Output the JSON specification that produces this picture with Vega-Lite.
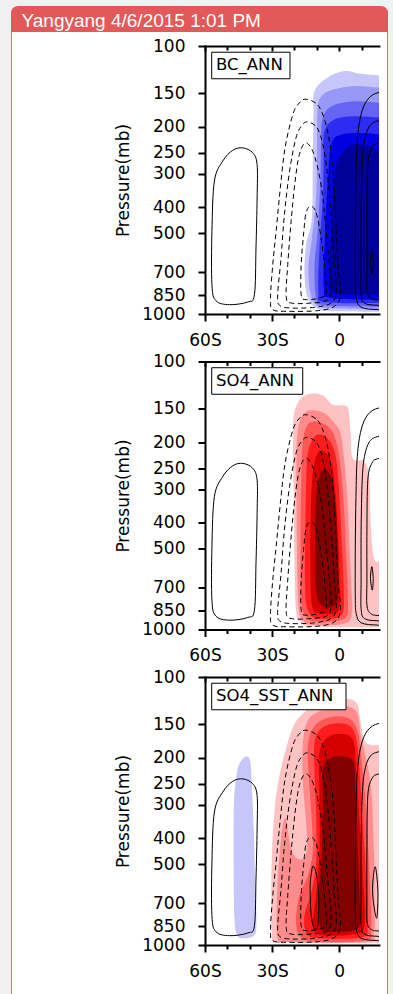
{
"$schema": "https://vega.github.io/schema/vega-lite/v6.json",
"background": "#f1f1f1",
"padding": {"left": 10, "top": 5, "right": 6, "bottom": 0},
"autosize": {"type": "pad"},
"config": {
  "view": {"stroke": null},
  "axis": {"domainColor": "black", "domainWidth": 2, "domainCap": "square", "tickColor": "black", "tickWidth": 2, "labelFont": "DejaVu Sans", "labelFontSize": 17, "labelColor": "black", "titleFont": "DejaVu Sans", "titleFontSize": 17, "titleFontWeight": "normal", "titleColor": "black", "grid": false, "labelOverlap": false, "labelFlush": false}
},
"datasets": {
"fills": [
{"pn":"BC","lev":"b1","x":-11.0,"y":147},{"pn":"BC","lev":"b1","x":-5.1,"y":131},{"pn":"BC","lev":"b1","x":2.4,"y":124},{"pn":"BC","lev":"b1","x":9.8,"y":127},{"pn":"BC","lev":"b1","x":19,"y":129},{"pn":"BC","lev":"b1","x":30,"y":129},{"pn":"BC","lev":"b1","x":30,"y":980},{"pn":"BC","lev":"b1","x":19,"y":980},{"pn":"BC","lev":"b1","x":-2.1,"y":977},{"pn":"BC","lev":"b1","x":-9.6,"y":955},{"pn":"BC","lev":"b1","x":-14.0,"y":871},{"pn":"BC","lev":"b1","x":-15.5,"y":713},{"pn":"BC","lev":"b1","x":-14.8,"y":551},{"pn":"BC","lev":"b1","x":-12.2,"y":438},{"pn":"BC","lev":"b1","x":-11.8,"y":277},{"pn":"BC","lev":"b1","x":-11.5,"y":180},
{"pn":"BC","lev":"b2","x":-9.6,"y":170},{"pn":"BC","lev":"b2","x":-7.3,"y":152},{"pn":"BC","lev":"b2","x":-2.1,"y":145},{"pn":"BC","lev":"b2","x":6.9,"y":141},{"pn":"BC","lev":"b2","x":19,"y":143},{"pn":"BC","lev":"b2","x":30,"y":143},{"pn":"BC","lev":"b2","x":30,"y":960},{"pn":"BC","lev":"b2","x":19,"y":960},{"pn":"BC","lev":"b2","x":-5.1,"y":950},{"pn":"BC","lev":"b2","x":-11.0,"y":910},{"pn":"BC","lev":"b2","x":-13.3,"y":800},{"pn":"BC","lev":"b2","x":-13.7,"y":654},{"pn":"BC","lev":"b2","x":-12.2,"y":520},{"pn":"BC","lev":"b2","x":-10.3,"y":369},{"pn":"BC","lev":"b2","x":-9.9,"y":240},
{"pn":"BC","lev":"b3","x":-7.3,"y":185},{"pn":"BC","lev":"b3","x":-3.6,"y":168},{"pn":"BC","lev":"b3","x":5.4,"y":161},{"pn":"BC","lev":"b3","x":19,"y":163},{"pn":"BC","lev":"b3","x":30,"y":163},{"pn":"BC","lev":"b3","x":30,"y":940},{"pn":"BC","lev":"b3","x":19,"y":940},{"pn":"BC","lev":"b3","x":-6.6,"y":928},{"pn":"BC","lev":"b3","x":-10.3,"y":871},{"pn":"BC","lev":"b3","x":-11.0,"y":654},{"pn":"BC","lev":"b3","x":-9.6,"y":491},{"pn":"BC","lev":"b3","x":-8.4,"y":319},{"pn":"BC","lev":"b3","x":-8.1,"y":220},
{"pn":"BC","lev":"b4","x":-6.6,"y":208},{"pn":"BC","lev":"b4","x":-2.1,"y":188},{"pn":"BC","lev":"b4","x":6.9,"y":183},{"pn":"BC","lev":"b4","x":19,"y":185},{"pn":"BC","lev":"b4","x":30,"y":185},{"pn":"BC","lev":"b4","x":30,"y":910},{"pn":"BC","lev":"b4","x":19,"y":910},{"pn":"BC","lev":"b4","x":-6.6,"y":902},{"pn":"BC","lev":"b4","x":-9.3,"y":823},{"pn":"BC","lev":"b4","x":-8.8,"y":567},{"pn":"BC","lev":"b4","x":-7.3,"y":369},{"pn":"BC","lev":"b4","x":-6.9,"y":261},
{"pn":"BC","lev":"b5","x":-3.6,"y":233},{"pn":"BC","lev":"b5","x":0.9,"y":214},{"pn":"BC","lev":"b5","x":9.8,"y":211},{"pn":"BC","lev":"b5","x":19,"y":214},{"pn":"BC","lev":"b5","x":30,"y":214},{"pn":"BC","lev":"b5","x":30,"y":884},{"pn":"BC","lev":"b5","x":19,"y":884},{"pn":"BC","lev":"b5","x":-3.6,"y":871},{"pn":"BC","lev":"b5","x":-6.9,"y":800},{"pn":"BC","lev":"b5","x":-6.3,"y":491},{"pn":"BC","lev":"b5","x":-5.1,"y":319},
{"pn":"BC","lev":"b6","x":-2.1,"y":302},{"pn":"BC","lev":"b6","x":0.9,"y":254},{"pn":"BC","lev":"b6","x":6.1,"y":233},{"pn":"BC","lev":"b6","x":12.8,"y":236},{"pn":"BC","lev":"b6","x":19,"y":247},{"pn":"BC","lev":"b6","x":30,"y":247},{"pn":"BC","lev":"b6","x":30,"y":847},{"pn":"BC","lev":"b6","x":19,"y":847},{"pn":"BC","lev":"b6","x":-2.1,"y":835},{"pn":"BC","lev":"b6","x":-4.3,"y":734},{"pn":"BC","lev":"b6","x":-3.6,"y":491},
{"pn":"SO4","lev":"r1","x":-20.3,"y":158},{"pn":"SO4","lev":"r1","x":-17.3,"y":138},{"pn":"SO4","lev":"r1","x":-12.5,"y":132},{"pn":"SO4","lev":"r1","x":-7.3,"y":134},{"pn":"SO4","lev":"r1","x":-2.9,"y":145},{"pn":"SO4","lev":"r1","x":2.4,"y":146},{"pn":"SO4","lev":"r1","x":4.2,"y":152},{"pn":"SO4","lev":"r1","x":5.1,"y":185},{"pn":"SO4","lev":"r1","x":6.1,"y":230},{"pn":"SO4","lev":"r1","x":11.3,"y":236},{"pn":"SO4","lev":"r1","x":13.6,"y":277},{"pn":"SO4","lev":"r1","x":14.0,"y":390},{"pn":"SO4","lev":"r1","x":15.5,"y":540},{"pn":"SO4","lev":"r1","x":19,"y":556},{"pn":"SO4","lev":"r1","x":30,"y":560},{"pn":"SO4","lev":"r1","x":30,"y":980},{"pn":"SO4","lev":"r1","x":19,"y":980},{"pn":"SO4","lev":"r1","x":-11.0,"y":977},{"pn":"SO4","lev":"r1","x":-17.3,"y":936},{"pn":"SO4","lev":"r1","x":-19.3,"y":847},{"pn":"SO4","lev":"r1","x":-20.0,"y":567},{"pn":"SO4","lev":"r1","x":-20.3,"y":319},{"pn":"SO4","lev":"r1","x":-20.7,"y":208},
{"pn":"SO4","lev":"r2","x":-18.5,"y":180},{"pn":"SO4","lev":"r2","x":-16.3,"y":158},{"pn":"SO4","lev":"r2","x":-12.5,"y":152},{"pn":"SO4","lev":"r2","x":-6.6,"y":156},{"pn":"SO4","lev":"r2","x":-2.1,"y":170},{"pn":"SO4","lev":"r2","x":0.6,"y":185},{"pn":"SO4","lev":"r2","x":2.1,"y":226},{"pn":"SO4","lev":"r2","x":3.6,"y":319},{"pn":"SO4","lev":"r2","x":4.6,"y":491},{"pn":"SO4","lev":"r2","x":5.4,"y":693},{"pn":"SO4","lev":"r2","x":5.7,"y":871},{"pn":"SO4","lev":"r2","x":2.4,"y":950},{"pn":"SO4","lev":"r2","x":-11.0,"y":963},{"pn":"SO4","lev":"r2","x":-16.3,"y":923},{"pn":"SO4","lev":"r2","x":-18.2,"y":823},{"pn":"SO4","lev":"r2","x":-18.8,"y":567},{"pn":"SO4","lev":"r2","x":-19.1,"y":319},{"pn":"SO4","lev":"r2","x":-19.1,"y":226},
{"pn":"SO4","lev":"r3","x":-16.3,"y":202},{"pn":"SO4","lev":"r3","x":-14.0,"y":172},{"pn":"SO4","lev":"r3","x":-9.6,"y":168},{"pn":"SO4","lev":"r3","x":-4.3,"y":177},{"pn":"SO4","lev":"r3","x":-1.3,"y":199},{"pn":"SO4","lev":"r3","x":0.6,"y":247},{"pn":"SO4","lev":"r3","x":2.1,"y":348},{"pn":"SO4","lev":"r3","x":3.1,"y":520},{"pn":"SO4","lev":"r3","x":3.9,"y":777},{"pn":"SO4","lev":"r3","x":2.4,"y":910},{"pn":"SO4","lev":"r3","x":-9.6,"y":936},{"pn":"SO4","lev":"r3","x":-14.8,"y":897},{"pn":"SO4","lev":"r3","x":-17.0,"y":777},{"pn":"SO4","lev":"r3","x":-17.3,"y":491},{"pn":"SO4","lev":"r3","x":-17.0,"y":293},
{"pn":"SO4","lev":"r4","x":-14.0,"y":220},{"pn":"SO4","lev":"r4","x":-11.0,"y":191},{"pn":"SO4","lev":"r4","x":-7.3,"y":188},{"pn":"SO4","lev":"r4","x":-3.6,"y":202},{"pn":"SO4","lev":"r4","x":-1.3,"y":233},{"pn":"SO4","lev":"r4","x":0.1,"y":319},{"pn":"SO4","lev":"r4","x":1.2,"y":491},{"pn":"SO4","lev":"r4","x":2.1,"y":734},{"pn":"SO4","lev":"r4","x":0.9,"y":884},{"pn":"SO4","lev":"r4","x":-8.1,"y":910},{"pn":"SO4","lev":"r4","x":-13.3,"y":871},{"pn":"SO4","lev":"r4","x":-15.2,"y":734},{"pn":"SO4","lev":"r4","x":-15.2,"y":464},{"pn":"SO4","lev":"r4","x":-14.8,"y":293},
{"pn":"SO4","lev":"r5","x":-11.8,"y":261},{"pn":"SO4","lev":"r5","x":-9.6,"y":220},{"pn":"SO4","lev":"r5","x":-6.6,"y":217},{"pn":"SO4","lev":"r5","x":-3.6,"y":236},{"pn":"SO4","lev":"r5","x":-1.8,"y":302},{"pn":"SO4","lev":"r5","x":-0.6,"y":438},{"pn":"SO4","lev":"r5","x":0.1,"y":654},{"pn":"SO4","lev":"r5","x":-0.3,"y":847},{"pn":"SO4","lev":"r5","x":-8.1,"y":871},{"pn":"SO4","lev":"r5","x":-11.8,"y":835},{"pn":"SO4","lev":"r5","x":-12.8,"y":654},{"pn":"SO4","lev":"r5","x":-12.8,"y":390},
{"pn":"SO4","lev":"r6","x":-10.3,"y":319},{"pn":"SO4","lev":"r6","x":-8.1,"y":258},{"pn":"SO4","lev":"r6","x":-4.3,"y":261},{"pn":"SO4","lev":"r6","x":-2.1,"y":310},{"pn":"SO4","lev":"r6","x":-0.9,"y":438},{"pn":"SO4","lev":"r6","x":-0.3,"y":654},{"pn":"SO4","lev":"r6","x":-1.3,"y":800},{"pn":"SO4","lev":"r6","x":-7.3,"y":818},{"pn":"SO4","lev":"r6","x":-10.3,"y":713},{"pn":"SO4","lev":"r6","x":-10.7,"y":464},
{"pn":"SST","lev":"b1","x":-46.9,"y":277},{"pn":"SST","lev":"b1","x":-45.4,"y":220},{"pn":"SST","lev":"b1","x":-43.1,"y":202},{"pn":"SST","lev":"b1","x":-41.2,"y":198},{"pn":"SST","lev":"b1","x":-39.7,"y":208},{"pn":"SST","lev":"b1","x":-39.0,"y":261},{"pn":"SST","lev":"b1","x":-38.2,"y":369},{"pn":"SST","lev":"b1","x":-37.6,"y":567},{"pn":"SST","lev":"b1","x":-37.0,"y":823},{"pn":"SST","lev":"b1","x":-37.9,"y":918},{"pn":"SST","lev":"b1","x":-42.4,"y":944},{"pn":"SST","lev":"b1","x":-45.7,"y":918},{"pn":"SST","lev":"b1","x":-46.9,"y":777},{"pn":"SST","lev":"b1","x":-47.2,"y":491},{"pn":"SST","lev":"b1","x":-47.2,"y":348},
{"pn":"SST","lev":"r1","x":-30.0,"y":950},{"pn":"SST","lev":"r1","x":-30.4,"y":654},{"pn":"SST","lev":"r1","x":-30.0,"y":438},{"pn":"SST","lev":"r1","x":-28.7,"y":302},{"pn":"SST","lev":"r1","x":-26.7,"y":233},{"pn":"SST","lev":"r1","x":-24.2,"y":191},{"pn":"SST","lev":"r1","x":-20.4,"y":152},{"pn":"SST","lev":"r1","x":-15.5,"y":135},{"pn":"SST","lev":"r1","x":-9.6,"y":127},{"pn":"SST","lev":"r1","x":-2.1,"y":122},{"pn":"SST","lev":"r1","x":4.6,"y":121},{"pn":"SST","lev":"r1","x":8.1,"y":126},{"pn":"SST","lev":"r1","x":9.1,"y":139},{"pn":"SST","lev":"r1","x":10.6,"y":165},{"pn":"SST","lev":"r1","x":12.8,"y":178},{"pn":"SST","lev":"r1","x":19,"y":180},{"pn":"SST","lev":"r1","x":30,"y":180},{"pn":"SST","lev":"r1","x":30,"y":982},{"pn":"SST","lev":"r1","x":19,"y":982},{"pn":"SST","lev":"r1","x":-2.1,"y":982},{"pn":"SST","lev":"r1","x":-17.0,"y":980},{"pn":"SST","lev":"r1","x":-27.5,"y":972},
{"pn":"SST","lev":"r2","x":-27.5,"y":950},{"pn":"SST","lev":"r2","x":-27.8,"y":654},{"pn":"SST","lev":"r2","x":-26.7,"y":464},{"pn":"SST","lev":"r2","x":-25.2,"y":358},{"pn":"SST","lev":"r2","x":-23.7,"y":343},{"pn":"SST","lev":"r2","x":-21.5,"y":438},{"pn":"SST","lev":"r2","x":-18.5,"y":477},{"pn":"SST","lev":"r2","x":-15.5,"y":470},{"pn":"SST","lev":"r2","x":-14.3,"y":413},{"pn":"SST","lev":"r2","x":-15.2,"y":319},{"pn":"SST","lev":"r2","x":-16.3,"y":240},{"pn":"SST","lev":"r2","x":-16.3,"y":180},{"pn":"SST","lev":"r2","x":-14.3,"y":147},{"pn":"SST","lev":"r2","x":-9.6,"y":135},{"pn":"SST","lev":"r2","x":-2.1,"y":129},{"pn":"SST","lev":"r2","x":5.4,"y":130},{"pn":"SST","lev":"r2","x":8.4,"y":139},{"pn":"SST","lev":"r2","x":9.6,"y":165},{"pn":"SST","lev":"r2","x":11.3,"y":190},{"pn":"SST","lev":"r2","x":14.3,"y":260},{"pn":"SST","lev":"r2","x":15.5,"y":450},{"pn":"SST","lev":"r2","x":15.8,"y":700},{"pn":"SST","lev":"r2","x":15.5,"y":900},{"pn":"SST","lev":"r2","x":12.0,"y":975},{"pn":"SST","lev":"r2","x":-23.0,"y":975},
{"pn":"SST","lev":"r3","x":-14.0,"y":180},{"pn":"SST","lev":"r3","x":-11.0,"y":152},{"pn":"SST","lev":"r3","x":-3.6,"y":141},{"pn":"SST","lev":"r3","x":4.6,"y":143},{"pn":"SST","lev":"r3","x":8.4,"y":161},{"pn":"SST","lev":"r3","x":10.1,"y":208},{"pn":"SST","lev":"r3","x":12.1,"y":319},{"pn":"SST","lev":"r3","x":13.6,"y":567},{"pn":"SST","lev":"r3","x":14.3,"y":871},{"pn":"SST","lev":"r3","x":11.3,"y":963},{"pn":"SST","lev":"r3","x":-9.6,"y":972},{"pn":"SST","lev":"r3","x":-17.0,"y":936},{"pn":"SST","lev":"r3","x":-19.3,"y":823},{"pn":"SST","lev":"r3","x":-17.8,"y":654},{"pn":"SST","lev":"r3","x":-14.0,"y":551},{"pn":"SST","lev":"r3","x":-11.8,"y":438},{"pn":"SST","lev":"r3","x":-12.8,"y":293},{"pn":"SST","lev":"r3","x":-13.7,"y":226},
{"pn":"SST","lev":"r4","x":-11.0,"y":175},{"pn":"SST","lev":"r4","x":-8.1,"y":156},{"pn":"SST","lev":"r4","x":-2.1,"y":149},{"pn":"SST","lev":"r4","x":4.6,"y":152},{"pn":"SST","lev":"r4","x":7.6,"y":170},{"pn":"SST","lev":"r4","x":9.1,"y":226},{"pn":"SST","lev":"r4","x":10.6,"y":348},{"pn":"SST","lev":"r4","x":12.1,"y":567},{"pn":"SST","lev":"r4","x":12.8,"y":847},{"pn":"SST","lev":"r4","x":9.8,"y":936},{"pn":"SST","lev":"r4","x":-9.6,"y":944},{"pn":"SST","lev":"r4","x":-14.8,"y":897},{"pn":"SST","lev":"r4","x":-15.5,"y":777},{"pn":"SST","lev":"r4","x":-12.5,"y":636},{"pn":"SST","lev":"r4","x":-10.3,"y":491},{"pn":"SST","lev":"r4","x":-10.3,"y":319},{"pn":"SST","lev":"r4","x":-11.0,"y":226},
{"pn":"SST","lev":"r5","x":-8.8,"y":191},{"pn":"SST","lev":"r5","x":-5.1,"y":168},{"pn":"SST","lev":"r5","x":0.9,"y":163},{"pn":"SST","lev":"r5","x":6.1,"y":172},{"pn":"SST","lev":"r5","x":7.6,"y":220},{"pn":"SST","lev":"r5","x":9.1,"y":348},{"pn":"SST","lev":"r5","x":10.6,"y":567},{"pn":"SST","lev":"r5","x":11.3,"y":847},{"pn":"SST","lev":"r5","x":6.9,"y":910},{"pn":"SST","lev":"r5","x":-8.1,"y":918},{"pn":"SST","lev":"r5","x":-11.8,"y":847},{"pn":"SST","lev":"r5","x":-10.3,"y":654},{"pn":"SST","lev":"r5","x":-8.8,"y":438},{"pn":"SST","lev":"r5","x":-8.8,"y":277},
{"pn":"SST","lev":"r6","x":-7.3,"y":220},{"pn":"SST","lev":"r6","x":-3.6,"y":200},{"pn":"SST","lev":"r6","x":2.4,"y":198},{"pn":"SST","lev":"r6","x":6.4,"y":208},{"pn":"SST","lev":"r6","x":7.3,"y":261},{"pn":"SST","lev":"r6","x":8.1,"y":426},{"pn":"SST","lev":"r6","x":9.1,"y":654},{"pn":"SST","lev":"r6","x":8.7,"y":859},{"pn":"SST","lev":"r6","x":-2.1,"y":892},{"pn":"SST","lev":"r6","x":-8.1,"y":871},{"pn":"SST","lev":"r6","x":-9.3,"y":693},{"pn":"SST","lev":"r6","x":-7.8,"y":464},{"pn":"SST","lev":"r6","x":-7.3,"y":293}
],
"lines": [
{"pn":"all","sign":"pos","id":"L","x":-43.1,"y":240},{"pn":"all","sign":"pos","id":"L","x":-38.7,"y":250},{"pn":"all","sign":"pos","id":"L","x":-36.7,"y":277},{"pn":"all","sign":"pos","id":"L","x":-36.7,"y":369},{"pn":"all","sign":"pos","id":"L","x":-37.2,"y":567},{"pn":"all","sign":"pos","id":"L","x":-37.9,"y":847},{"pn":"all","sign":"pos","id":"L","x":-40.9,"y":902},{"pn":"all","sign":"pos","id":"L","x":-49.1,"y":923},{"pn":"all","sign":"pos","id":"L","x":-55.1,"y":892},{"pn":"all","sign":"pos","id":"L","x":-56.9,"y":777},{"pn":"all","sign":"pos","id":"L","x":-56.9,"y":491},{"pn":"all","sign":"pos","id":"L","x":-55.8,"y":319},{"pn":"all","sign":"pos","id":"L","x":-52.1,"y":269},{"pn":"all","sign":"pos","id":"L","x":-47.6,"y":245},
{"pn":"all","sign":"neg","id":"D1","x":-14.8,"y":158},{"pn":"all","sign":"neg","id":"D1","x":-9.6,"y":166},{"pn":"all","sign":"neg","id":"D1","x":-6.3,"y":191},{"pn":"all","sign":"neg","id":"D1","x":-3.9,"y":240},{"pn":"all","sign":"neg","id":"D1","x":-2.4,"y":319},{"pn":"all","sign":"neg","id":"D1","x":-1.3,"y":491},{"pn":"all","sign":"neg","id":"D1","x":-0.3,"y":693},{"pn":"all","sign":"neg","id":"D1","x":0.6,"y":847},{"pn":"all","sign":"neg","id":"D1","x":-2.1,"y":936},{"pn":"all","sign":"neg","id":"D1","x":-9.6,"y":972},{"pn":"all","sign":"neg","id":"D1","x":-23.0,"y":977},{"pn":"all","sign":"neg","id":"D1","x":-29.7,"y":963},{"pn":"all","sign":"neg","id":"D1","x":-30.7,"y":871},{"pn":"all","sign":"neg","id":"D1","x":-29.7,"y":654},{"pn":"all","sign":"neg","id":"D1","x":-28.2,"y":491},{"pn":"all","sign":"neg","id":"D1","x":-26.3,"y":338},{"pn":"all","sign":"neg","id":"D1","x":-24.2,"y":240},{"pn":"all","sign":"neg","id":"D1","x":-20.7,"y":180},{"pn":"all","sign":"neg","id":"D1","x":-17.8,"y":163},
{"pn":"all","sign":"neg","id":"D2","x":-14.0,"y":192},{"pn":"all","sign":"neg","id":"D2","x":-9.9,"y":202},{"pn":"all","sign":"neg","id":"D2","x":-7.3,"y":233},{"pn":"all","sign":"neg","id":"D2","x":-5.4,"y":293},{"pn":"all","sign":"neg","id":"D2","x":-3.6,"y":426},{"pn":"all","sign":"neg","id":"D2","x":-2.1,"y":654},{"pn":"all","sign":"neg","id":"D2","x":-1.3,"y":823},{"pn":"all","sign":"neg","id":"D2","x":-3.6,"y":910},{"pn":"all","sign":"neg","id":"D2","x":-11.0,"y":944},{"pn":"all","sign":"neg","id":"D2","x":-21.5,"y":950},{"pn":"all","sign":"neg","id":"D2","x":-26.7,"y":928},{"pn":"all","sign":"neg","id":"D2","x":-27.5,"y":847},{"pn":"all","sign":"neg","id":"D2","x":-26.0,"y":618},{"pn":"all","sign":"neg","id":"D2","x":-24.5,"y":426},{"pn":"all","sign":"neg","id":"D2","x":-22.2,"y":293},{"pn":"all","sign":"neg","id":"D2","x":-19.3,"y":220},{"pn":"all","sign":"neg","id":"D2","x":-16.7,"y":198},
{"pn":"all","sign":"neg","id":"D3","x":-15.2,"y":230},{"pn":"all","sign":"neg","id":"D3","x":-12.2,"y":243},{"pn":"all","sign":"neg","id":"D3","x":-9.6,"y":285},{"pn":"all","sign":"neg","id":"D3","x":-7.3,"y":369},{"pn":"all","sign":"neg","id":"D3","x":-5.1,"y":567},{"pn":"all","sign":"neg","id":"D3","x":-3.6,"y":777},{"pn":"all","sign":"neg","id":"D3","x":-5.1,"y":884},{"pn":"all","sign":"neg","id":"D3","x":-12.5,"y":910},{"pn":"all","sign":"neg","id":"D3","x":-21.5,"y":910},{"pn":"all","sign":"neg","id":"D3","x":-23.7,"y":859},{"pn":"all","sign":"neg","id":"D3","x":-23.0,"y":654},{"pn":"all","sign":"neg","id":"D3","x":-21.5,"y":451},{"pn":"all","sign":"neg","id":"D3","x":-19.7,"y":319},{"pn":"all","sign":"neg","id":"D3","x":-17.8,"y":254},
{"pn":"all","sign":"neg","id":"D4","x":-12.8,"y":396},{"pn":"all","sign":"neg","id":"D4","x":-10.3,"y":419},{"pn":"all","sign":"neg","id":"D4","x":-8.1,"y":520},{"pn":"all","sign":"neg","id":"D4","x":-6.3,"y":693},{"pn":"all","sign":"neg","id":"D4","x":-5.8,"y":835},{"pn":"all","sign":"neg","id":"D4","x":-8.8,"y":871},{"pn":"all","sign":"neg","id":"D4","x":-14.8,"y":884},{"pn":"all","sign":"neg","id":"D4","x":-17.0,"y":847},{"pn":"all","sign":"neg","id":"D4","x":-17.0,"y":654},{"pn":"all","sign":"neg","id":"D4","x":-15.8,"y":491},{"pn":"all","sign":"neg","id":"D4","x":-14.8,"y":419},
{"pn":"all","sign":"pos","id":"S1","x":27.8,"y":147},{"pn":"all","sign":"pos","id":"S1","x":17.8,"y":149},{"pn":"all","sign":"pos","id":"S1","x":12.8,"y":158},{"pn":"all","sign":"pos","id":"S1","x":9.8,"y":180},{"pn":"all","sign":"pos","id":"S1","x":8.1,"y":226},{"pn":"all","sign":"pos","id":"S1","x":7.5,"y":319},{"pn":"all","sign":"pos","id":"S1","x":7.2,"y":491},{"pn":"all","sign":"pos","id":"S1","x":7.2,"y":755},{"pn":"all","sign":"pos","id":"S1","x":7.6,"y":871},{"pn":"all","sign":"pos","id":"S1","x":9.8,"y":944},{"pn":"all","sign":"pos","id":"S1","x":17.3,"y":963},{"pn":"all","sign":"pos","id":"S1","x":27.8,"y":963},
{"pn":"all","sign":"pos","id":"S2","x":27.8,"y":186},{"pn":"all","sign":"pos","id":"S2","x":17.8,"y":190},{"pn":"all","sign":"pos","id":"S2","x":13.6,"y":199},{"pn":"all","sign":"pos","id":"S2","x":11.3,"y":226},{"pn":"all","sign":"pos","id":"S2","x":10.3,"y":277},{"pn":"all","sign":"pos","id":"S2","x":9.8,"y":426},{"pn":"all","sign":"pos","id":"S2","x":9.8,"y":654},{"pn":"all","sign":"pos","id":"S2","x":9.8,"y":835},{"pn":"all","sign":"pos","id":"S2","x":11.3,"y":910},{"pn":"all","sign":"pos","id":"S2","x":17.3,"y":928},{"pn":"all","sign":"pos","id":"S2","x":27.8,"y":928},
{"pn":"all","sign":"pos","id":"S3","x":27.8,"y":226},{"pn":"all","sign":"pos","id":"S3","x":17.8,"y":230},{"pn":"all","sign":"pos","id":"S3","x":14.6,"y":240},{"pn":"all","sign":"pos","id":"S3","x":12.8,"y":277},{"pn":"all","sign":"pos","id":"S3","x":12.4,"y":426},{"pn":"all","sign":"pos","id":"S3","x":12.4,"y":654},{"pn":"all","sign":"pos","id":"S3","x":12.4,"y":811},{"pn":"all","sign":"pos","id":"S3","x":14.0,"y":871},{"pn":"all","sign":"pos","id":"S3","x":17.8,"y":887},{"pn":"all","sign":"pos","id":"S3","x":27.8,"y":887},
{"pn":"p12","sign":"pos","id":"E1","x":14.6,"y":583},{"pn":"p12","sign":"pos","id":"E1","x":15.2,"y":645},{"pn":"p12","sign":"pos","id":"E1","x":14.8,"y":713},{"pn":"p12","sign":"pos","id":"E1","x":14.0,"y":645},
{"pn":"p3","sign":"pos","id":"E3","x":16.1,"y":510},{"pn":"p3","sign":"pos","id":"E3","x":17.3,"y":632},{"pn":"p3","sign":"pos","id":"E3","x":16.7,"y":795},{"pn":"p3","sign":"pos","id":"E3","x":14.9,"y":632},
{"pn":"p3","sign":"pos","id":"C3","x":-11.6,"y":507},{"pn":"p3","sign":"pos","id":"C3","x":-9.9,"y":560},{"pn":"p3","sign":"pos","id":"C3","x":-9.1,"y":689},{"pn":"p3","sign":"pos","id":"C3","x":-9.6,"y":842},{"pn":"p3","sign":"pos","id":"C3","x":-11.0,"y":874},{"pn":"p3","sign":"pos","id":"C3","x":-12.5,"y":775},{"pn":"p3","sign":"pos","id":"C3","x":-13.0,"y":614},{"pn":"p3","sign":"pos","id":"C3","x":-12.5,"y":544}
]
},
"spacing": 47.5,
"bounds": "flush",
"vconcat": [
{
 "width": 174, "height": 268,
 "resolve": {"axis": {"x": "independent", "y": "independent"}},
 "layer": [
  {"data": {"values": [{}]}, "mark": {"type": "rect", "fill": "white"},
   "encoding": {"x": {"datum": -146.74, "type": "quantitative", "scale": {"domain": [-60, 17.8], "nice": false, "zero": false}, "axis": null}, "x2": {"datum": 21.82},
                "y": {"datum": 88.66, "type": "quantitative", "scale": {"type": "log", "domain": [100, 1000], "reverse": true, "nice": false}, "axis": null}, "y2": {"datum": 347560}}},
  {"data": {"values": [{}]}, "mark": {"type": "rule", "stroke": "#ec6666", "strokeWidth": 1},
   "encoding": {"x": {"datum": -146.52, "type": "quantitative", "scale": {"domain": [-60, 17.8], "nice": false, "zero": false}, "axis": null},
                "y": {"datum": 88.66, "type": "quantitative", "scale": {"type": "log", "domain": [100, 1000], "reverse": true, "nice": false}, "axis": null}, "y2": {"datum": 347560}}},
  {"data": {"values": [{}]}, "mark": {"type": "rule", "stroke": "#ec6666", "strokeWidth": 1},
   "encoding": {"x": {"datum": 21.6, "type": "quantitative", "scale": {"domain": [-60, 17.8], "nice": false, "zero": false}, "axis": null},
                "y": {"datum": 88.66, "type": "quantitative", "scale": {"type": "log", "domain": [100, 1000], "reverse": true, "nice": false}, "axis": null}, "y2": {"datum": 347560}}},
  {"data": {"values": [{}]}, "mark": {"type": "rect", "fill": "#e35858", "cornerRadiusTopLeft": 7, "cornerRadiusTopRight": 7},
   "encoding": {"x": {"datum": -146.74, "type": "quantitative", "scale": {"domain": [-60, 17.8], "nice": false, "zero": false}, "axis": null}, "x2": {"datum": 21.82},
                "y": {"datum": 70.9, "type": "quantitative", "scale": {"type": "log", "domain": [100, 1000], "reverse": true, "nice": false}, "axis": null}, "y2": {"datum": 88.66}}},
  {"data": {"values": [{}]}, "mark": {"type": "text", "text": "Yangyang 4/6/2015 1:01 PM", "align": "left", "baseline": "alphabetic", "font": "Liberation Sans", "fontSize": 19, "fill": "white"},
   "encoding": {"x": {"datum": -142.05, "type": "quantitative", "scale": {"domain": [-60, 17.8], "nice": false, "zero": false}, "axis": null},
                "y": {"datum": 84.73, "type": "quantitative", "scale": {"type": "log", "domain": [100, 1000], "reverse": true, "nice": false}, "axis": null}}},
  {"data": {"name": "fills"}, "transform": [{"filter": "datum.pn == 'BC'"}],
   "mark": {"type": "line", "filled": true, "interpolate": "cardinal-closed", "clip": true},
   "encoding": {
    "x": {"field": "x", "type": "quantitative", "scale": {"domain": [-60, 17.8], "nice": false, "zero": false},
          "axis": {"zindex": 2, "orient": "bottom", "values": [-60,-50,-40,-30,-20,-10,0,10], "labelExpr": "datum.value == -60 ? '60S' : datum.value == -30 ? '30S' : datum.value == 0 ? '0' : ''", "tickSize": {"condition": {"test": "datum.value % 30 == 0", "value": 7}, "value": 4}, "labelPadding": 11, "title": null}},
    "y": {"field": "y", "type": "quantitative", "scale": {"type": "log", "domain": [100, 1000], "reverse": true, "nice": false},
          "axis": {"zindex": 2, "orient": "left", "values": [100,150,200,250,300,400,500,700,850,1000], "format": "d", "tickSize": 7, "labelPadding": 13, "title": "Pressure(mb)", "titlePadding": 9}},
    "color": {"field": "lev", "type": "nominal", "scale": {"domain": ["b1","b2","b3","b4","b5","b6","r1","r2","r3","r4","r5","r6"], "range": ["#c6c6fb","#9898f6","#6464f5","#2c2cf2","#0000e0","#00009a","#ffc2c2","#ff8c8c","#ff5656","#ff1c1c","#d20000","#820000"]}, "legend": null},
    "order": {"value": null}}},
  {"data": {"name": "lines"}, "transform": [{"filter": "datum.sign == 'neg'"}],
   "mark": {"type": "line", "interpolate": "cardinal-closed", "clip": true, "color": "black", "strokeWidth": 1, "strokeDash": [5, 3.5]},
   "encoding": {
    "x": {"field": "x", "type": "quantitative", "scale": {"domain": [-60, 17.8], "nice": false, "zero": false},
          "axis": {"zindex": 2, "orient": "top", "values": [-60,-50,-40,-30,-20,-10,0,10], "labels": false, "tickSize": {"condition": {"test": "datum.value % 30 == 0", "value": -5}, "value": -4}, "title": null}},
    "y": {"field": "y", "type": "quantitative", "scale": {"type": "log", "domain": [100, 1000], "reverse": true, "nice": false}, "axis": null},
    "detail": {"field": "id"}, "order": {"value": null}}},
  {"data": {"name": "lines"}, "transform": [{"filter": "datum.sign == 'pos' && datum.pn != 'p3'"}],
   "mark": {"type": "line", "interpolate": "cardinal-closed", "clip": true, "color": "black", "strokeWidth": 1},
   "encoding": {
    "x": {"field": "x", "type": "quantitative", "scale": {"domain": [-60, 17.8], "nice": false, "zero": false}, "axis": null},
    "y": {"field": "y", "type": "quantitative", "scale": {"type": "log", "domain": [100, 1000], "reverse": true, "nice": false}, "axis": null},
    "detail": {"field": "id"}, "order": {"value": null}}},
  {"data": {"values": [{}]}, "mark": {"type": "rect", "fill": "white", "stroke": "black", "strokeWidth": 1},
   "encoding": {"x": {"datum": -57.0, "type": "quantitative", "scale": {"domain": [-60, 17.8], "nice": false, "zero": false}, "axis": null}, "x2": {"datum": -22.0},
                "y": {"datum": 105.5, "type": "quantitative", "scale": {"type": "log", "domain": [100, 1000], "reverse": true, "nice": false}, "axis": null}, "y2": {"datum": 132.5}}},
  {"data": {"values": [{}]}, "mark": {"type": "text", "text": "BC_ANN", "align": "left", "baseline": "alphabetic", "font": "DejaVu Sans", "fontSize": 16.5, "fill": "black"},
   "encoding": {"x": {"datum": -55.1, "type": "quantitative", "scale": {"domain": [-60, 17.8], "nice": false, "zero": false}, "axis": null},
                "y": {"datum": 123.2, "type": "quantitative", "scale": {"type": "log", "domain": [100, 1000], "reverse": true, "nice": false}, "axis": null}}}
 ]
},
{
 "width": 174, "height": 268,
 "resolve": {"axis": {"x": "independent", "y": "independent"}},
 "layer": [
  {"data": {"name": "fills"}, "transform": [{"filter": "datum.pn == 'SO4'"}],
   "mark": {"type": "line", "filled": true, "interpolate": "cardinal-closed", "clip": true},
   "encoding": {
    "x": {"field": "x", "type": "quantitative", "scale": {"domain": [-60, 17.8], "nice": false, "zero": false},
          "axis": {"zindex": 2, "orient": "bottom", "values": [-60,-50,-40,-30,-20,-10,0,10], "labelExpr": "datum.value == -60 ? '60S' : datum.value == -30 ? '30S' : datum.value == 0 ? '0' : ''", "tickSize": {"condition": {"test": "datum.value % 30 == 0", "value": 7}, "value": 4}, "labelPadding": 11, "title": null}},
    "y": {"field": "y", "type": "quantitative", "scale": {"type": "log", "domain": [100, 1000], "reverse": true, "nice": false},
          "axis": {"zindex": 2, "orient": "left", "values": [100,150,200,250,300,400,500,700,850,1000], "format": "d", "tickSize": 7, "labelPadding": 13, "title": "Pressure(mb)", "titlePadding": 9}},
    "color": {"field": "lev", "type": "nominal", "scale": {"domain": ["b1","b2","b3","b4","b5","b6","r1","r2","r3","r4","r5","r6"], "range": ["#c6c6fb","#9898f6","#6464f5","#2c2cf2","#0000e0","#00009a","#ffc2c2","#ff8c8c","#ff5656","#ff1c1c","#d20000","#820000"]}, "legend": null},
    "order": {"value": null}}},
  {"data": {"name": "lines"}, "transform": [{"filter": "datum.sign == 'neg'"}],
   "mark": {"type": "line", "interpolate": "cardinal-closed", "clip": true, "color": "black", "strokeWidth": 1, "strokeDash": [5, 3.5]},
   "encoding": {
    "x": {"field": "x", "type": "quantitative", "scale": {"domain": [-60, 17.8], "nice": false, "zero": false},
          "axis": {"zindex": 2, "orient": "top", "values": [-60,-50,-40,-30,-20,-10,0,10], "labels": false, "tickSize": {"condition": {"test": "datum.value % 30 == 0", "value": -5}, "value": -4}, "title": null}},
    "y": {"field": "y", "type": "quantitative", "scale": {"type": "log", "domain": [100, 1000], "reverse": true, "nice": false}, "axis": null},
    "detail": {"field": "id"}, "order": {"value": null}}},
  {"data": {"name": "lines"}, "transform": [{"filter": "datum.sign == 'pos' && datum.pn != 'p3'"}],
   "mark": {"type": "line", "interpolate": "cardinal-closed", "clip": true, "color": "black", "strokeWidth": 1},
   "encoding": {
    "x": {"field": "x", "type": "quantitative", "scale": {"domain": [-60, 17.8], "nice": false, "zero": false}, "axis": null},
    "y": {"field": "y", "type": "quantitative", "scale": {"type": "log", "domain": [100, 1000], "reverse": true, "nice": false}, "axis": null},
    "detail": {"field": "id"}, "order": {"value": null}}},
  {"data": {"values": [{}]}, "mark": {"type": "rect", "fill": "white", "stroke": "black", "strokeWidth": 1},
   "encoding": {"x": {"datum": -57.0, "type": "quantitative", "scale": {"domain": [-60, 17.8], "nice": false, "zero": false}, "axis": null}, "x2": {"datum": -16.3},
                "y": {"datum": 105.5, "type": "quantitative", "scale": {"type": "log", "domain": [100, 1000], "reverse": true, "nice": false}, "axis": null}, "y2": {"datum": 132.5}}},
  {"data": {"values": [{}]}, "mark": {"type": "text", "text": "SO4_ANN", "align": "left", "baseline": "alphabetic", "font": "DejaVu Sans", "fontSize": 16.5, "fill": "black"},
   "encoding": {"x": {"datum": -55.1, "type": "quantitative", "scale": {"domain": [-60, 17.8], "nice": false, "zero": false}, "axis": null},
                "y": {"datum": 123.2, "type": "quantitative", "scale": {"type": "log", "domain": [100, 1000], "reverse": true, "nice": false}, "axis": null}}}
 ]
},
{
 "width": 174, "height": 268,
 "resolve": {"axis": {"x": "independent", "y": "independent"}},
 "layer": [
  {"data": {"name": "fills"}, "transform": [{"filter": "datum.pn == 'SST'"}],
   "mark": {"type": "line", "filled": true, "interpolate": "cardinal-closed", "clip": true},
   "encoding": {
    "x": {"field": "x", "type": "quantitative", "scale": {"domain": [-60, 17.8], "nice": false, "zero": false},
          "axis": {"zindex": 2, "orient": "bottom", "values": [-60,-50,-40,-30,-20,-10,0,10], "labelExpr": "datum.value == -60 ? '60S' : datum.value == -30 ? '30S' : datum.value == 0 ? '0' : ''", "tickSize": {"condition": {"test": "datum.value % 30 == 0", "value": 7}, "value": 4}, "labelPadding": 11, "title": null}},
    "y": {"field": "y", "type": "quantitative", "scale": {"type": "log", "domain": [100, 1000], "reverse": true, "nice": false},
          "axis": {"zindex": 2, "orient": "left", "values": [100,150,200,250,300,400,500,700,850,1000], "format": "d", "tickSize": 7, "labelPadding": 13, "title": "Pressure(mb)", "titlePadding": 9}},
    "color": {"field": "lev", "type": "nominal", "scale": {"domain": ["b1","b2","b3","b4","b5","b6","r1","r2","r3","r4","r5","r6"], "range": ["#c6c6fb","#9898f6","#6464f5","#2c2cf2","#0000e0","#00009a","#ffc2c2","#ff8c8c","#ff5656","#ff1c1c","#d20000","#820000"]}, "legend": null},
    "order": {"value": null}}},
  {"data": {"name": "lines"}, "transform": [{"filter": "datum.sign == 'neg'"}],
   "mark": {"type": "line", "interpolate": "cardinal-closed", "clip": true, "color": "black", "strokeWidth": 1, "strokeDash": [5, 3.5]},
   "encoding": {
    "x": {"field": "x", "type": "quantitative", "scale": {"domain": [-60, 17.8], "nice": false, "zero": false},
          "axis": {"zindex": 2, "orient": "top", "values": [-60,-50,-40,-30,-20,-10,0,10], "labels": false, "tickSize": {"condition": {"test": "datum.value % 30 == 0", "value": -5}, "value": -4}, "title": null}},
    "y": {"field": "y", "type": "quantitative", "scale": {"type": "log", "domain": [100, 1000], "reverse": true, "nice": false}, "axis": null},
    "detail": {"field": "id"}, "order": {"value": null}}},
  {"data": {"name": "lines"}, "transform": [{"filter": "datum.sign == 'pos' && datum.pn != 'p12'"}],
   "mark": {"type": "line", "interpolate": "cardinal-closed", "clip": true, "color": "black", "strokeWidth": 1},
   "encoding": {
    "x": {"field": "x", "type": "quantitative", "scale": {"domain": [-60, 17.8], "nice": false, "zero": false}, "axis": null},
    "y": {"field": "y", "type": "quantitative", "scale": {"type": "log", "domain": [100, 1000], "reverse": true, "nice": false}, "axis": null},
    "detail": {"field": "id"}, "order": {"value": null}}},
  {"data": {"values": [{}]}, "mark": {"type": "rect", "fill": "white", "stroke": "black", "strokeWidth": 1},
   "encoding": {"x": {"datum": -57.0, "type": "quantitative", "scale": {"domain": [-60, 17.8], "nice": false, "zero": false}, "axis": null}, "x2": {"datum": 3.05},
                "y": {"datum": 105.5, "type": "quantitative", "scale": {"type": "log", "domain": [100, 1000], "reverse": true, "nice": false}, "axis": null}, "y2": {"datum": 132.5}}},
  {"data": {"values": [{}]}, "mark": {"type": "text", "text": "SO4_SST_ANN", "align": "left", "baseline": "alphabetic", "font": "DejaVu Sans", "fontSize": 16.5, "fill": "black"},
   "encoding": {"x": {"datum": -55.1, "type": "quantitative", "scale": {"domain": [-60, 17.8], "nice": false, "zero": false}, "axis": null},
                "y": {"datum": 123.2, "type": "quantitative", "scale": {"type": "log", "domain": [100, 1000], "reverse": true, "nice": false}, "axis": null}}}
 ]
}
]
}
